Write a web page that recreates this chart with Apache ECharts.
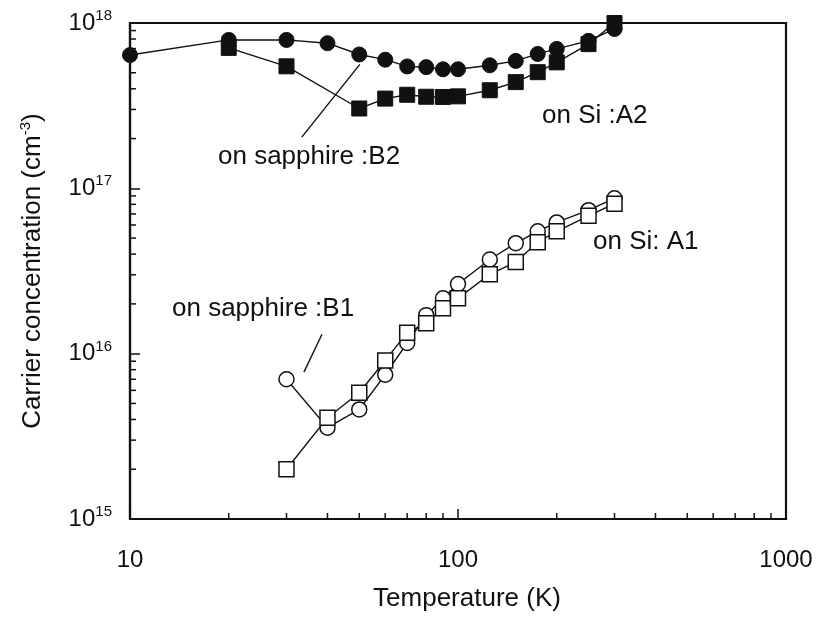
<!DOCTYPE html>
<html>
<head>
<meta charset="utf-8">
<script src="https://cdn.jsdelivr.net/npm/echarts@6/dist/echarts.min.js"></script>
<style>
html,body{margin:0;padding:0;background:#fff;}
#chart{width:819px;height:621px;}
</style>
</head>
<body>
<div id="chart"></div>
<script>
// Data (Temperature K, carrier concentration cm^-3)
const tB2 = [10, 20, 30, 40, 50, 60, 70, 80, 90, 100, 125, 150, 175, 200, 250, 300];
const nB2 = [6.4e17, 7.9e17, 7.9e17, 7.55e17, 6.45e17, 6.0e17, 5.46e17, 5.41e17, 5.25e17, 5.25e17, 5.55e17, 5.9e17, 6.5e17, 6.97e17, 7.8e17, 9.2e17];
const tA2 = [20, 30, 50, 60, 70, 80, 90, 100, 125, 150, 175, 200, 250, 300];
const nA2 = [7.07e17, 5.47e17, 3.04e17, 3.49e17, 3.68e17, 3.58e17, 3.57e17, 3.6e17, 3.92e17, 4.39e17, 5.04e17, 5.78e17, 7.45e17, 1.0e18];
const tB1 = [30, 40, 50, 60, 70, 80, 90, 100, 125, 150, 175, 200, 250, 300];
const nB1 = [7.0e15, 3.57e15, 4.6e15, 7.46e15, 1.16e16, 1.71e16, 2.16e16, 2.64e16, 3.71e16, 4.66e16, 5.5e16, 6.22e16, 7.38e16, 8.7e16];
const tA1 = [30, 40, 50, 60, 70, 80, 90, 100, 125, 150, 175, 200, 250, 300];
const nA1 = [2.0e15, 4.1e15, 5.8e15, 9.1e15, 1.34e16, 1.53e16, 1.88e16, 2.16e16, 3.02e16, 3.58e16, 4.72e16, 5.5e16, 6.82e16, 8.07e16];

// Leader lines for annotations (data coordinates)
const leaderB2 = [[33.4, 2.04e17], [50.2, 5.62e17]];
const leaderB1 = [[38.5, 1.31e16], [33.9, 7.73e15]];

// Axis ranges and minor tick positions
const xMin = 10, xMax = 1000;
const yMin = 1e15, yMax = 1e18;
const xMinorTicks = [20, 30, 40, 50, 60, 70, 80, 90, 200, 300, 400, 500, 600, 700, 800, 900];
const yMinorTicks = [2e15, 3e15, 4e15, 5e15, 6e15, 7e15, 8e15, 9e15,
                     2e16, 3e16, 4e16, 5e16, 6e16, 7e16, 8e16, 9e16,
                     2e17, 3e17, 4e17, 5e17, 6e17, 7e17, 8e17, 9e17];

// Annotation texts
const notes = [
  {text: 'on sapphire :B2', x: 218, y: 157},
  {text: 'on Si :A2', x: 542, y: 116},
  {text: 'on Si: A1', x: 593, y: 242},
  {text: 'on sapphire :B1', x: 172, y: 309}
];

const FONT = '"Liberation Sans", Arial, sans-serif';
const zip = (xs, ys) => xs.map((x, i) => [x, ys[i]]);

const chart = echarts.init(document.getElementById('chart'), null, {renderer: 'canvas'});

const lineStyle = {color: '#111', width: 1.4};

const option = {
  backgroundColor: '#fff',
  animation: false,
  grid: {left: 130, right: 33, top: 23, bottom: 102, containLabel: false, outerBoundsMode: 'none',
         show: true, borderColor: '#111', borderWidth: 2.2, backgroundColor: 'transparent'},
  xAxis: {
    type: 'log', logBase: 10, min: xMin, max: xMax,
    name: 'Temperature (K)', nameLocation: 'middle', nameGap: 67,
    nameTextStyle: {fontFamily: FONT, fontSize: 26, color: '#111', padding: [0, 0, 0, 18]},
    axisLine: {lineStyle: {color: '#111', width: 2.2}},
    axisTick: {inside: true, length: 10, lineStyle: {color: '#111', width: 1.5}},
    axisLabel: {fontFamily: FONT, fontSize: 24, color: '#111', margin: 29,
                formatter: v => String(Math.round(v))},
    splitLine: {show: false}, minorTick: {show: false}
  },
  yAxis: {
    type: 'log', logBase: 10, min: yMin, max: yMax,
    name: '{n|Carrier concentration (cm}{s|-3}{n|)}', nameLocation: 'middle', nameGap: 83, nameRotate: 90,
    nameTextStyle: {fontFamily: FONT, fontSize: 26, color: '#111',
      rich: {n: {fontFamily: FONT, fontSize: 26, color: '#111'},
             s: {fontFamily: FONT, fontSize: 15, color: '#111', padding: [0, 0, 14, 0]}}},
    axisLine: {lineStyle: {color: '#111', width: 2.2}},
    axisTick: {inside: true, length: 10, lineStyle: {color: '#111', width: 1.5}},
    axisLabel: {
      margin: 18,
      formatter: v => '{b|10}{s|' + Math.round(Math.log10(v)) + '}',
      rich: {b: {fontFamily: FONT, fontSize: 24, color: '#111'},
             s: {fontFamily: FONT, fontSize: 15, color: '#111', padding: [0, 0, 14, 0]}}
    },
    splitLine: {show: false}, minorTick: {show: false}
  },
  graphic: notes.map(n => ({
    type: 'text', left: n.x, top: n.y - 13, silent: true,
    style: {text: n.text, fontFamily: FONT, fontSize: 26, fill: '#111'}
  })),
  series: [
    {
      type: 'custom', silent: true, clip: false, z: 1,
      data: xMinorTicks.map(t => [t, yMin]),
      renderItem: (params, api) => {
        const p = api.coord([api.value(0), api.value(1)]);
        return {type: 'line', shape: {x1: p[0], y1: p[1], x2: p[0], y2: p[1] - 6},
                style: {stroke: '#111', lineWidth: 1.5}};
      }
    },
    {
      type: 'custom', silent: true, clip: false, z: 1,
      data: yMinorTicks.map(v => [xMin, v]),
      renderItem: (params, api) => {
        const p = api.coord([api.value(0), api.value(1)]);
        return {type: 'line', shape: {x1: p[0], y1: p[1], x2: p[0] + 6, y2: p[1]},
                style: {stroke: '#111', lineWidth: 1.5}};
      }
    },
    {type: 'line', data: leaderB2, symbol: 'none', lineStyle: {color: '#111', width: 1.4}, z: 2, clip: false},
    {type: 'line', data: leaderB1, symbol: 'none', lineStyle: {color: '#111', width: 1.4}, z: 2, clip: false},
    {
      name: 'on sapphire B2', type: 'line', data: zip(tB2, nB2), clip: false, z: 3,
      symbol: 'circle', symbolSize: 15, showAllSymbol: true,
      lineStyle: lineStyle, itemStyle: {color: '#111', borderColor: '#111', borderWidth: 1}
    },
    {
      name: 'on Si A2', type: 'line', data: zip(tA2, nA2), clip: false, z: 4,
      symbol: 'rect', symbolSize: 15, showAllSymbol: true,
      lineStyle: lineStyle, itemStyle: {color: '#111', borderColor: '#111', borderWidth: 1}
    },
    {
      name: 'on sapphire B1', type: 'line', data: zip(tB1, nB1), clip: false, z: 3,
      symbol: 'circle', symbolSize: 15, showAllSymbol: true,
      lineStyle: lineStyle, itemStyle: {color: '#fff', borderColor: '#111', borderWidth: 1.5}
    },
    {
      name: 'on Si A1', type: 'line', data: zip(tA1, nA1), clip: false, z: 4,
      symbol: 'rect', symbolSize: 15, showAllSymbol: true,
      lineStyle: lineStyle, itemStyle: {color: '#fff', borderColor: '#111', borderWidth: 1.5}
    }
  ]
};
chart.setOption(option);
</script>
</body>
</html>
